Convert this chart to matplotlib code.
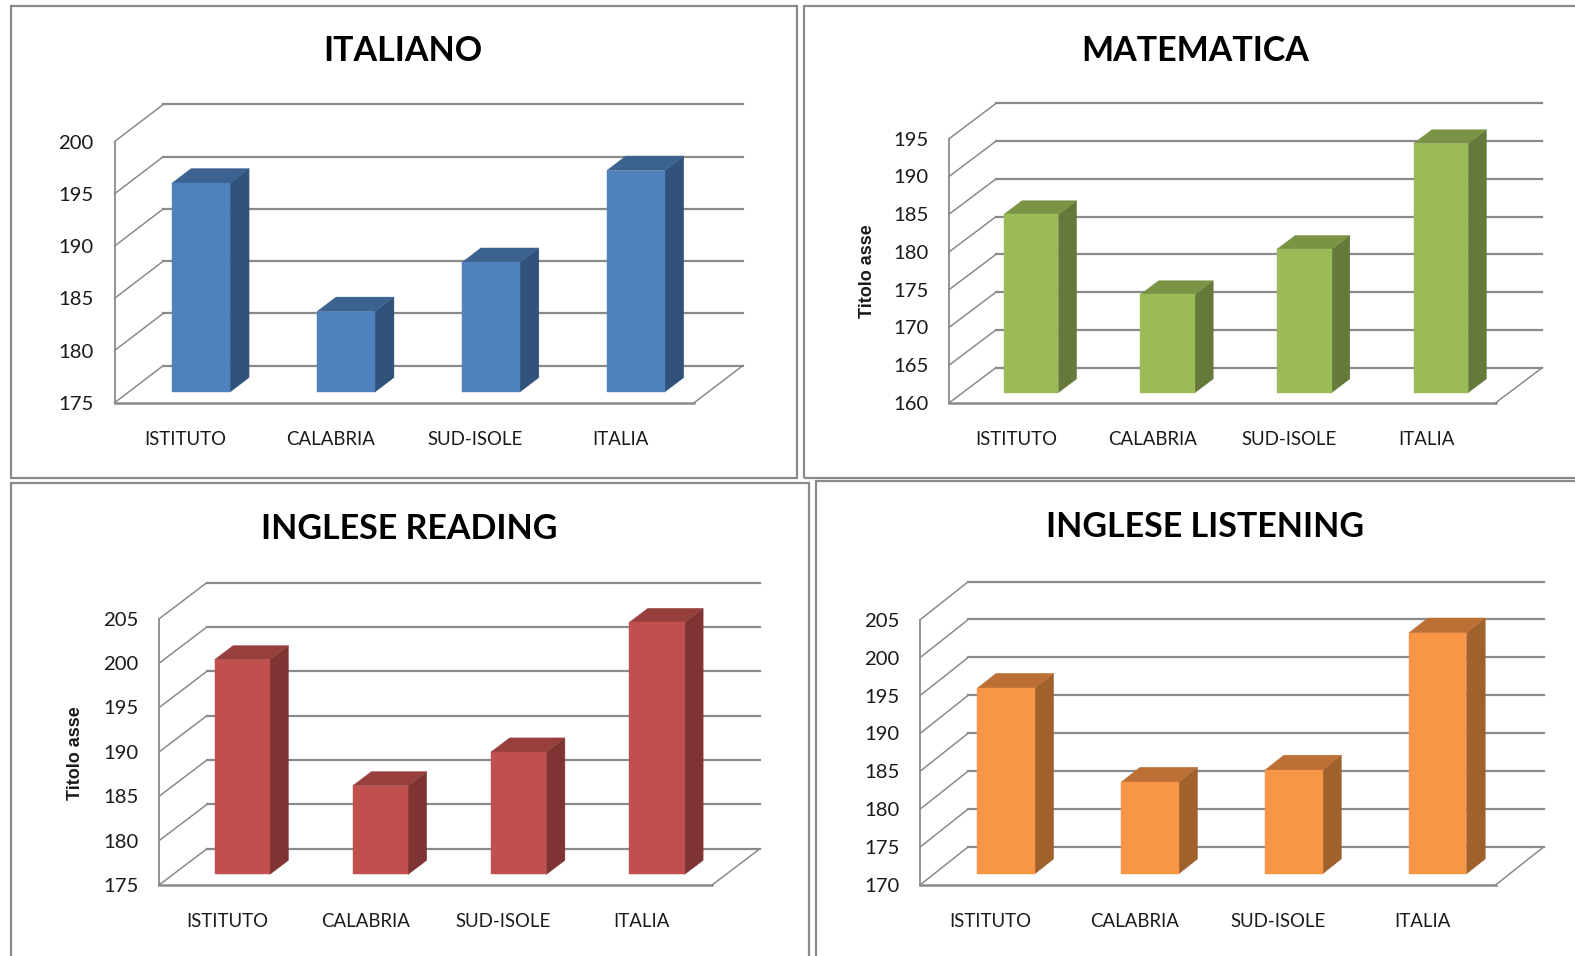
import matplotlib
matplotlib.use('Agg')
import matplotlib.pyplot as plt
from matplotlib.patches import Polygon, Rectangle
from matplotlib.transforms import IdentityTransform

W, H = 1575, 956
S = 1575 / 1568  # layout below was measured on the 1568 wide view

categories = ['ISTITUTO', 'CALABRIA', 'SUD-ISOLE', 'ITALIA']

italiano = [195.0, 182.7, 187.4, 196.2]
matematica = [183.6, 173.0, 179.0, 193.0]
reading = [199.2, 185.0, 188.8, 203.4]
listening = [194.5, 182.1, 183.7, 201.8]

ticks_italiano = [175, 180, 185, 190, 195, 200]
ticks_matematica = [160, 165, 170, 175, 180, 185, 190, 195]
ticks_reading = [175, 180, 185, 190, 195, 200, 205]
ticks_listening = [170, 175, 180, 185, 190, 195, 200, 205]

GRID = '#8a8a8a'
TEXT = '#1a1a1a'

# box, front plane (left, right, y of lowest tick, y of top tick), wall depth, title centre
panels = [
    dict(title='ITALIANO', values=italiano, ticks=ticks_italiano,
         box=(11, 6, 793, 476), plane=(114, 691, 401, 141), depth=(48.5, 37), title_xy=(401, 51),
         colors=('#4F81BD', '#31527B', '#3C6290'), ylabel=None),
    dict(title='MATEMATICA', values=matematica, ticks=ticks_matematica,
         box=(800, 6, 1600, 476), plane=(945, 1489, 401, 138), depth=(46.5, 35), title_xy=(1190, 51),
         colors=('#9BBB59', '#65793A', '#7A9345'), ylabel=(864, 270)),
    dict(title='INGLESE READING', values=reading, ticks=ticks_reading,
         box=(11, 481, 805, 1000), plane=(158.5, 709, 881, 616), depth=(47.5, 36), title_xy=(407, 527),
         colors=('#C0504D', '#7D3432', '#973F3D'), ylabel=(75, 750)),
    dict(title='INGLESE LISTENING', values=listening, ticks=ticks_listening,
         box=(812, 479, 1600, 1000), plane=(916, 1489, 881, 617), depth=(48, 38), title_xy=(1200, 525),
         colors=('#F79646', '#A0622D', '#BC7035'), ylabel=None),
]

fig = plt.figure(figsize=(W / 100, H / 100), dpi=100, facecolor='white')
px = IdentityTransform()


def flip(x, y):
    return x * S, H - y * S


def draw_panel(p):
    x0, y0, x1, y1 = p['box']
    bx, by = flip(x0, y1)
    fig.add_artist(Rectangle((bx, by), (x1 - x0) * S, (y1 - y0) * S, transform=px,
                             fill=False, edgecolor=GRID, linewidth=1.6))

    left, right, low, top = p['plane']
    ax_l, ax_b = flip(left, low)
    ax_r, ax_t = flip(right, top)
    ax = fig.add_axes([ax_l / W, ax_b / H, (ax_r - ax_l) / W, (ax_t - ax_b) / H])
    ax.patch.set_visible(False)
    for s in ax.spines.values():
        s.set_visible(False)

    ticks = p['ticks']
    n = len(categories)
    ax.set_xlim(0, n)
    ax.set_ylim(ticks[0], ticks[-1])
    ax.set_xticks([i + 0.49 for i in range(n)])
    ax.set_xticklabels(categories, fontsize=13.4, color=TEXT, family='Lato')
    ax.set_yticks(ticks)
    ax.set_yticklabels(ticks, fontsize=14.6, color=TEXT, family='Lato')
    ax.tick_params(axis='both', length=0)
    ax.tick_params(axis='x', pad=20)
    ax.tick_params(axis='y', pad=15)

    dx, dy = p['depth'][0] * S, p['depth'][1] * S

    def pt(x, y, d=0.0):
        a, b = ax.transData.transform((x, y))
        return a + d * dx, b + d * dy

    # walls and floor
    for t in ticks:
        a, b, c = pt(0, t), pt(0, t, 1), pt(n, t, 1)
        ax.plot([a[0], b[0]], [a[1], b[1]], color=GRID, lw=1.1, transform=px, clip_on=False, zorder=1)
        ax.plot([b[0], c[0]], [b[1], c[1]], color=GRID, lw=1.6, transform=px, clip_on=False, zorder=1)
    a, b = pt(0, ticks[0]), pt(0, ticks[-1])
    ax.plot([a[0], b[0]], [a[1], b[1]], color=GRID, lw=1.3, transform=px, clip_on=False, zorder=1)
    a, b = pt(0, ticks[0]), pt(n, ticks[0])
    ax.plot([a[0], b[0]], [a[1], b[1]], color=GRID, lw=1.8, transform=px, clip_on=False, zorder=1)
    a, b = pt(n, ticks[0]), pt(n, ticks[0], 1)
    ax.plot([a[0], b[0]], [a[1], b[1]], color=GRID, lw=1.1, transform=px, clip_on=False, zorder=1)

    # bars, sitting in the middle of the floor depth
    face, side, cap = p['colors']
    near, far = 0.29, 0.68
    base = ticks[0]
    w = 0.4
    for i, v in enumerate(p['values']):
        xa, xb = i + 0.5 - w / 2, i + 0.5 + w / 2
        polys = [
            ([pt(xb, base, near), pt(xb, base, far), pt(xb, v, far), pt(xb, v, near)], side),
            ([pt(xa, v, near), pt(xb, v, near), pt(xb, v, far), pt(xa, v, far)], cap),
            ([pt(xa, base, near), pt(xb, base, near), pt(xb, v, near), pt(xa, v, near)], face),
        ]
        for verts, col in polys:
            ax.add_patch(Polygon(verts, closed=True, facecolor=col, edgecolor=col, linewidth=0.3,
                                 transform=px, clip_on=False, zorder=3))

    tx, ty = flip(*p['title_xy'])
    fig.text(tx / W, ty / H, p['title'], fontsize=24.5, fontweight='bold', family='Lato',
             color='black', ha='center', va='center')
    if p['ylabel']:
        lx, ly = flip(*p['ylabel'])
        fig.text(lx / W, ly / H, 'Titolo asse', fontsize=13, fontweight='bold',
                 family='Liberation Sans', color=TEXT, rotation=90, ha='center', va='center')


for p in panels:
    draw_panel(p)

fig.savefig('out.png', dpi=100, facecolor='white')
